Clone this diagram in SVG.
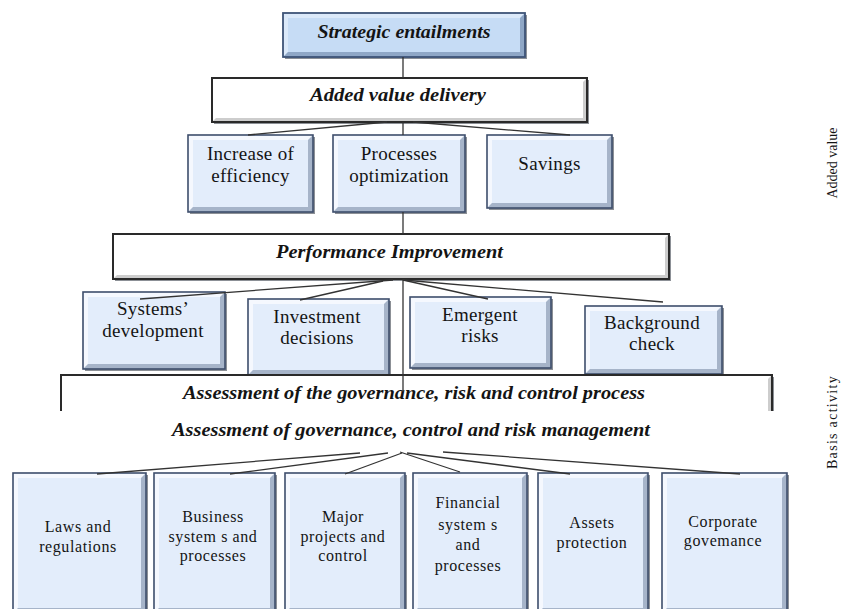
<svg xmlns="http://www.w3.org/2000/svg" width="841" height="609" viewBox="0 0 841 609">
<style>
text{font-family:"Liberation Serif","Times New Roman",serif;fill:#141414;text-anchor:middle}
.h{font-weight:bold;font-style:italic;font-size:18px}
.t{font-size:19px;letter-spacing:.3px}
.bt{font-size:16px;letter-spacing:.6px}
.side{font-size:14px}
.shadow{fill:#2e3440;opacity:.55}
.b .face{fill:#e3edfb}.b .lt{fill:#f5f8fe}.b .dk{fill:#a6b4c9}.b .edge{fill:none;stroke:#3e4e6c;stroke-width:1.6}
.w .face{fill:#fff}.w .lt{fill:#fff}.w .dk{fill:#cdcdcd}.w .edge{fill:none;stroke:#2a2a2a;stroke-width:2}
.s .face{fill:#c6dcf5}.s .lt{fill:#dbe9f9}.s .dk{fill:#8fa7c6}.s .edge{fill:none;stroke:#3e5477;stroke-width:1.8}
.conn path{fill:none;stroke:#333;stroke-width:1.3}
</style>

<g id="n-strategic" class="s" transform="translate(283,13)">
<rect class="shadow" x="2" y="2" width="242" height="44"/>
<rect class="face" width="242" height="44"/>
<path class="lt" d="M0,0H242L237,5H5V39L0,44Z"/>
<path class="dk" d="M242,0V44H0L5,39H237V5Z"/>
<rect class="edge" width="242" height="44"/>
<text class="h" x="121" y="25" textLength="173" lengthAdjust="spacingAndGlyphs">Strategic entailments</text>
</g>

<g id="n-added" class="w" transform="translate(212,78)">
<rect class="shadow" x="2" y="2" width="375" height="44"/>
<rect class="face" width="375" height="44"/>
<path class="lt" d="M0,0H375L371,4H4V40L0,44Z"/>
<path class="dk" d="M375,0V44H0L4,40H371V4Z"/>
<rect class="edge" width="375" height="44"/>
<text class="h" x="186" y="23" textLength="176" lengthAdjust="spacingAndGlyphs">Added value delivery</text>
</g>

<g id="n-increase" class="b" transform="translate(188,135)">
<rect class="shadow" x="2" y="2" width="125" height="77"/>
<rect class="face" width="125" height="77"/>
<path class="lt" d="M0,0H125L120,5H5V72L0,77Z"/>
<path class="dk" d="M125,0V77H0L5,72H120V5Z"/>
<rect class="edge" width="125" height="77"/>
<text class="t" x="62.5" y="25">Increase of</text>
<text class="t" x="62.5" y="47">efficiency</text>
</g>

<g id="n-processes" class="b" transform="translate(333,135)">
<rect class="shadow" x="2" y="2" width="132" height="77"/>
<rect class="face" width="132" height="77"/>
<path class="lt" d="M0,0H132L127,5H5V72L0,77Z"/>
<path class="dk" d="M132,0V77H0L5,72H127V5Z"/>
<rect class="edge" width="132" height="77"/>
<text class="t" x="66" y="25">Processes</text>
<text class="t" x="66" y="47">optimization</text>
</g>

<g id="n-savings" class="b" transform="translate(487,135)">
<rect class="shadow" x="2" y="2" width="125" height="73"/>
<rect class="face" width="125" height="73"/>
<path class="lt" d="M0,0H125L120,5H5V68L0,73Z"/>
<path class="dk" d="M125,0V73H0L5,68H120V5Z"/>
<rect class="edge" width="125" height="73"/>
<text class="t" x="62.5" y="35">Savings</text>
</g>

<g id="n-performance" class="w" transform="translate(113,234)">
<rect class="shadow" x="2" y="2" width="556" height="45"/>
<rect class="face" width="556" height="45"/>
<path class="lt" d="M0,0H556L552,4H4V41L0,45Z"/>
<path class="dk" d="M556,0V45H0L4,41H552V4Z"/>
<rect class="edge" width="556" height="45"/>
<text class="h" x="276.5" y="24" textLength="227" lengthAdjust="spacingAndGlyphs">Performance Improvement</text>
</g>

<g id="n-systems" class="b" transform="translate(83,292)">
<rect class="shadow" x="2" y="2" width="142" height="77"/>
<rect class="face" width="142" height="77"/>
<path class="lt" d="M0,0H142L137,5H5V72L0,77Z"/>
<path class="dk" d="M142,0V77H0L5,72H137V5Z"/>
<rect class="edge" width="142" height="77"/>
<text class="t" x="70" y="23">Systems’</text>
<text class="t" x="70" y="45">development</text>
</g>

<g id="n-investment" class="b" transform="translate(248,299)">
<rect class="shadow" x="2" y="2" width="141" height="76"/>
<rect class="face" width="141" height="76"/>
<path class="lt" d="M0,0H141L136,5H5V71L0,76Z"/>
<path class="dk" d="M141,0V76H0L5,71H136V5Z"/>
<rect class="edge" width="141" height="76"/>
<text class="t" x="69" y="24">Investment</text>
<text class="t" x="69" y="45">decisions</text>
</g>

<g id="n-emergent" class="b" transform="translate(410,297)">
<rect class="shadow" x="2" y="2" width="141" height="71"/>
<rect class="face" width="141" height="71"/>
<path class="lt" d="M0,0H141L136,5H5V66L0,71Z"/>
<path class="dk" d="M141,0V71H0L5,66H136V5Z"/>
<rect class="edge" width="141" height="71"/>
<text class="t" x="70" y="24">Emergent</text>
<text class="t" x="70" y="45">risks</text>
</g>

<g id="n-background" class="b" transform="translate(585,306)">
<rect class="shadow" x="2" y="2" width="137" height="68"/>
<rect class="face" width="137" height="68"/>
<path class="lt" d="M0,0H137L132,5H5V63L0,68Z"/>
<path class="dk" d="M137,0V68H0L5,63H132V5Z"/>
<rect class="edge" width="137" height="68"/>
<text class="t" x="67" y="23">Background</text>
<text class="t" x="67" y="44">check</text>
</g>

<g id="n-assessment" class="w" transform="translate(61,375)">
<rect class="face" width="711" height="36"/>
<path class="lt" d="M0,0H711L707,4H4V36H0Z"/>
<path class="dk" d="M711,0V36H707V4Z"/>
<path class="shadow" d="M711,2H713V36H711Z"/>
<path class="edge" d="M0,36V0H711V36"/>
<text class="h" x="353" y="24" textLength="462" lengthAdjust="spacingAndGlyphs">Assessment of the governance, risk and control process</text>
</g>

<g id="n-assessment2">
<text class="h" x="411" y="436" textLength="478" lengthAdjust="spacingAndGlyphs">Assessment of governance, control and risk management</text>
</g>

<g id="n-laws" class="b" transform="translate(13,473)">
<rect class="shadow" x="2" y="2" width="133" height="140"/>
<rect class="face" width="133" height="140"/>
<path class="lt" d="M0,0H133L128,5H5V135L0,140Z"/>
<path class="dk" d="M133,0V140H0L5,135H128V5Z"/>
<rect class="edge" width="133" height="140"/>
<text class="bt" x="65" y="59">Laws and</text>
<text class="bt" x="65" y="79">regulations</text>
</g>

<g id="n-business" class="b" transform="translate(154,473)">
<rect class="shadow" x="2" y="2" width="121" height="140"/>
<rect class="face" width="121" height="140"/>
<path class="lt" d="M0,0H121L116,5H5V135L0,140Z"/>
<path class="dk" d="M121,0V140H0L5,135H116V5Z"/>
<rect class="edge" width="121" height="140"/>
<text class="bt" x="59" y="49">Business</text>
<text class="bt" x="59" y="69">system s and</text>
<text class="bt" x="59" y="88">processes</text>
</g>

<g id="n-major" class="b" transform="translate(285,473)">
<rect class="shadow" x="2" y="2" width="120" height="140"/>
<rect class="face" width="120" height="140"/>
<path class="lt" d="M0,0H120L115,5H5V135L0,140Z"/>
<path class="dk" d="M120,0V140H0L5,135H115V5Z"/>
<rect class="edge" width="120" height="140"/>
<text class="bt" x="58" y="49">Major</text>
<text class="bt" x="58" y="69">projects and</text>
<text class="bt" x="58" y="88">control</text>
</g>

<g id="n-financial" class="b" transform="translate(413,473)">
<rect class="shadow" x="2" y="2" width="114" height="140"/>
<rect class="face" width="114" height="140"/>
<path class="lt" d="M0,0H114L109,5H5V135L0,140Z"/>
<path class="dk" d="M114,0V140H0L5,135H109V5Z"/>
<rect class="edge" width="114" height="140"/>
<text class="bt" x="55" y="35">Financial</text>
<text class="bt" x="55" y="57">system s</text>
<text class="bt" x="55" y="77">and</text>
<text class="bt" x="55" y="98">processes</text>
</g>

<g id="n-assets" class="b" transform="translate(538,473)">
<rect class="shadow" x="2" y="2" width="110" height="140"/>
<rect class="face" width="110" height="140"/>
<path class="lt" d="M0,0H110L105,5H5V135L0,140Z"/>
<path class="dk" d="M110,0V140H0L5,135H105V5Z"/>
<rect class="edge" width="110" height="140"/>
<text class="bt" x="54" y="55">Assets</text>
<text class="bt" x="54" y="75">protection</text>
</g>

<g id="n-corporate" class="b" transform="translate(662,473)">
<rect class="shadow" x="2" y="2" width="125" height="140"/>
<rect class="face" width="125" height="140"/>
<path class="lt" d="M0,0H125L120,5H5V135L0,140Z"/>
<path class="dk" d="M125,0V140H0L5,135H120V5Z"/>
<rect class="edge" width="125" height="140"/>
<text class="bt" x="61" y="54">Corporate</text>
<text class="bt" x="61" y="73">govemance</text>
</g>

<g id="connectors" class="conn">
<path d="M403,57V78"/>
<path d="M403,122V135"/>
<path d="M403,212V234"/>
<path d="M387,122L248,135"/>
<path d="M413,122L570,135"/>
<path d="M393,280L140,299"/>
<path d="M383,281L300,300"/>
<path d="M403,280L488,299"/>
<path d="M403,280L663,302"/>
<path d="M403,279V392"/>
<path d="M360,453L97,474"/>
<path d="M388,453L230,474"/>
<path d="M402,453L345,474"/>
<path d="M400,452L460,472"/>
<path d="M407,453L570,474"/>
<path d="M443,452L740,474"/>
</g>

<g id="side-labels">
<text class="side" transform="translate(837,163) rotate(-90)">Added value</text>
<text class="side" transform="translate(837,422) rotate(-90)" style="letter-spacing:1.3px">Basis activity</text>
</g>
</svg>
